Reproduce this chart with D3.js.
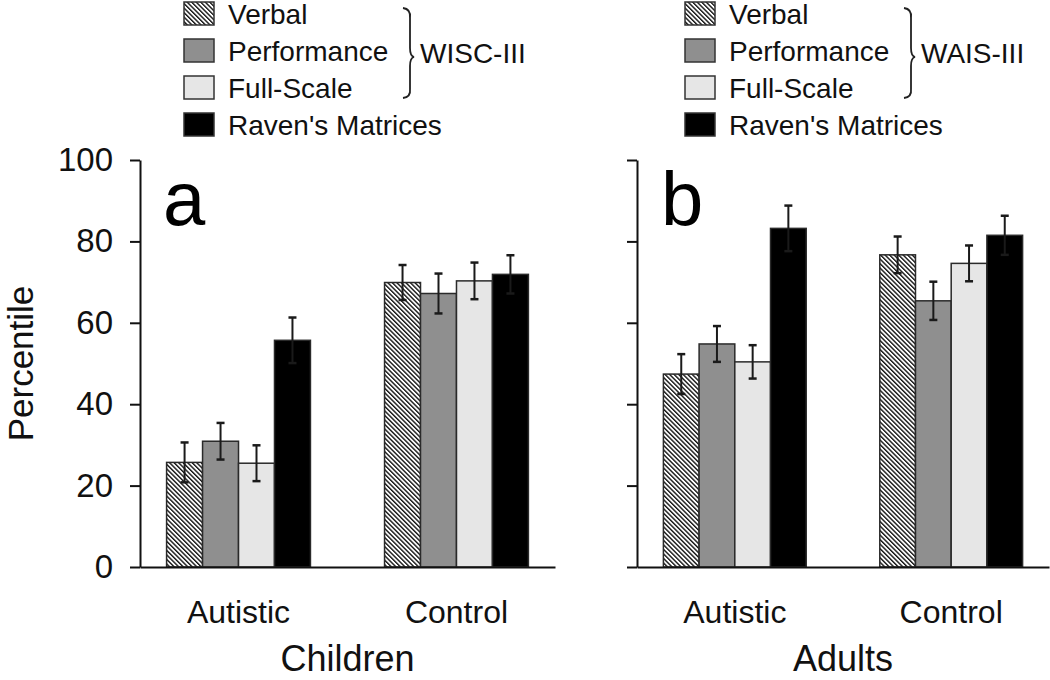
<!DOCTYPE html>
<html>
<head>
<meta charset="utf-8">
<script src="https://cdn.jsdelivr.net/npm/d3@7"></script>
<style>
  html, body { margin: 0; padding: 0; background: #fff; }
  svg { display: block; font-family: "Liberation Sans", Arial, sans-serif; }
</style>
</head>
<body>
<svg id="chart" width="1050" height="680"></svg>
<script>
// ---------------- data ----------------
const groups = ["Autistic", "Control"];
const series = ["Verbal", "Performance", "Full-Scale", "Raven's Matrices"];
const yTicks = [0, 20, 40, 60, 80, 100];

// Children (panel a) — per group, per series
const childrenMeans = [[25.7, 30.9, 25.5, 55.7], [69.9, 67.2, 70.3, 71.9]];
const childrenErr   = [[4.9, 4.5, 4.4, 5.6], [4.3, 4.9, 4.5, 4.7]];
// Adults (panel b)
const adultsMeans = [[47.4, 54.8, 50.4, 83.2], [76.7, 65.4, 74.6, 81.5]];
const adultsErr   = [[4.9, 4.4, 4.1, 5.6], [4.5, 4.7, 4.4, 4.8]];

const panelLetters = ["a", "b"];
const panelTitles = ["Children", "Adults"];
const testNames = ["WISC-III", "WAIS-III"];

// ---------------- drawing ----------------
const svg = d3.select("#chart");
const defs = svg.append("defs");
const pat = defs.append("pattern")
  .attr("id", "hatch").attr("patternUnits", "userSpaceOnUse")
  .attr("width", 3.2).attr("height", 3.2)
  .attr("patternTransform", "rotate(-45)");
pat.append("rect").attr("width", 3.2).attr("height", 3.2).attr("fill", "#fff");
pat.append("rect").attr("width", 1.4).attr("height", 3.2).attr("fill", "#151515");

const fills = ["url(#hatch)", "#8f8f8f", "#e6e6e6", "#000"];
const stroke = "#2a2a2a";

const y = d3.scaleLinear().domain([0, 100]).range([567, 160]);

const panels = [
  { x0: 140, x1: 555, means: childrenMeans, errs: childrenErr, labels: true, letterX: 163, legendX: 184 },
  { x0: 637, x1: 1049, means: adultsMeans, errs: adultsErr, labels: false, letterX: 661, legendX: 685 }
];

panels.forEach((p, pi) => {
  const g = svg.append("g");
  const xg = d3.scaleBand().domain(groups).range([p.x0, p.x1]).paddingInner(0.34).paddingOuter(0.122);
  const xs = d3.scaleBand().domain(series).range([0, xg.bandwidth()]).padding(0);

  // bars
  groups.forEach((grp, gi) => {
    series.forEach((s, si) => {
      const v = p.means[gi][si], e = p.errs[gi][si];
      const bx = xg(grp) + xs(s);
      g.append("rect")
        .attr("x", bx).attr("y", y(v))
        .attr("width", xs.bandwidth()).attr("height", y(0) - y(v))
        .attr("fill", fills[si]).attr("stroke", stroke).attr("stroke-width", 1.5);
      const cx = bx + xs.bandwidth() / 2;
      const eg = g.append("g").attr("stroke", "#1a1a1a");
      eg.append("line").attr("x1", cx).attr("x2", cx).attr("y1", y(v + e)).attr("y2", y(v - e)).attr("stroke-width", 2);
      [v + e, v - e].forEach(t => {
        eg.append("line").attr("x1", cx - 4).attr("x2", cx + 4).attr("y1", y(t)).attr("y2", y(t)).attr("stroke-width", 2.5);
      });
    });
  });

  // y axis
  const ya = d3.axisLeft(y).tickValues(yTicks).tickSize(10).tickSizeOuter(0).tickPadding(17);
  if (!p.labels) ya.tickFormat("");
  const yAx = g.append("g").attr("transform", `translate(${p.x0},0)`).call(ya);
  yAx.select(".domain").attr("stroke", "#111").attr("stroke-width", 2);
  yAx.selectAll(".tick line").attr("stroke", "#111").attr("stroke-width", 2);
  yAx.selectAll(".tick text").attr("font-size", 33).attr("fill", "#111").attr("font-family", "Liberation Sans, Arial, sans-serif");

  // x axis
  const xa = d3.axisBottom(xg).tickSize(0).tickPadding(33);
  const xAx = g.append("g").attr("transform", `translate(0,${y(0)})`).call(xa);
  xAx.select(".domain").attr("stroke", "#111").attr("stroke-width", 2);
  xAx.selectAll(".tick text").attr("font-size", 32).attr("fill", "#111").attr("font-family", "Liberation Sans, Arial, sans-serif");

  // panel title
  g.append("text").attr("x", (p.x0 + p.x1) / 2).attr("y", 671).attr("text-anchor", "middle")
    .attr("font-size", 36).attr("fill", "#111").text(panelTitles[pi]);

  // panel letter
  g.append("text").attr("x", p.letterX).attr("y", 225).attr("font-size", 76).attr("fill", "#000").text(panelLetters[pi]);

  // legend
  const lg = svg.append("g").attr("transform", `translate(${p.legendX},0)`);
  series.forEach((s, si) => {
    const yy = 2 + si * 37;
    lg.append("rect").attr("x", 0).attr("y", yy).attr("width", 30).attr("height", 23)
      .attr("fill", fills[si]).attr("stroke", "#333").attr("stroke-width", 1.5);
    lg.append("text").attr("x", 44).attr("y", yy + 22).attr("font-size", 28).attr("fill", "#111").text(s);
  });
  // brace
  const bx = 219;
  lg.append("path")
    .attr("d", `M${bx},8 Q${bx + 8},9 ${bx + 7},18 L${bx + 7},48 Q${bx + 7},56 ${bx + 11},57 Q${bx + 7},58 ${bx + 7},66 L${bx + 7},89 Q${bx + 8},97 ${bx},98`)
    .attr("fill", "none").attr("stroke", "#222").attr("stroke-width", 1.8);
  lg.append("text").attr("x", bx + 17).attr("y", 63).attr("font-size", 28).attr("fill", "#111").text(testNames[pi]);
});

// y label
svg.append("text").attr("transform", `translate(33,${(y(0) + y(100)) / 2}) rotate(-90)`)
  .attr("text-anchor", "middle").attr("font-size", 35).attr("fill", "#111").text("Percentile");
</script>
</body>
</html>
